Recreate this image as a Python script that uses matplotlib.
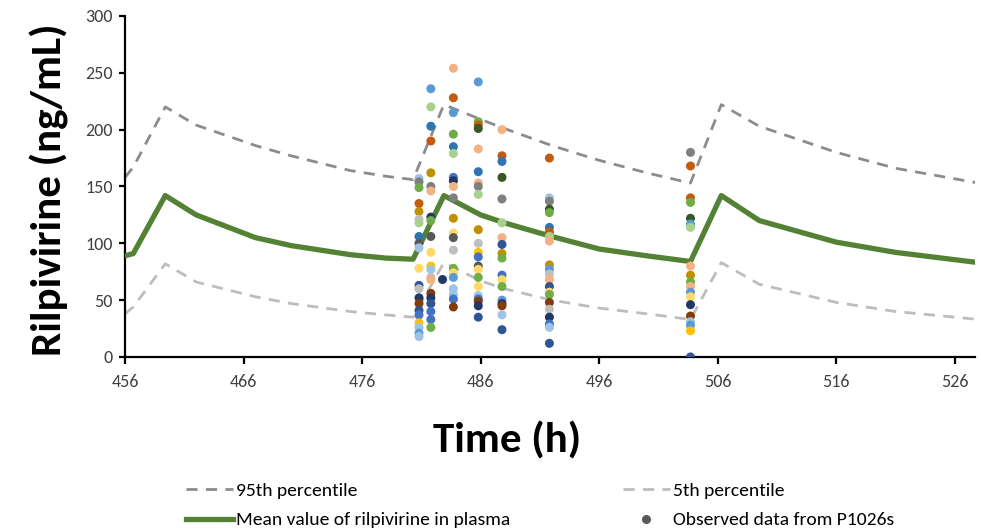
import matplotlib
matplotlib.use("Agg")
import matplotlib.pyplot as plt
from matplotlib.lines import Line2D
from matplotlib import font_manager

# 模拟曲线 (时间 h, 浓度 ng/mL)
sim_time = [456, 456.7, 459.4, 462, 467, 470, 475, 478, 480.3, 482.9, 486, 488, 492, 496,
            500, 503.7, 506.3, 509.5, 516, 521, 528]
mean_conc = [89, 91, 142, 125, 105, 98, 90, 87, 86, 142, 125, 118, 106, 95,
             89, 84, 142, 120, 101, 92, 83]
p95_conc = [158, 167, 220, 204, 186, 177, 164, 159, 156, 222, 209, 201, 186, 173,
            162, 153, 222, 203, 180, 166, 153]
p05_conc = [38, 44, 82, 66, 53, 47, 40, 37, 35, 83, 67, 60, 50, 43,
            38, 33, 83, 64, 48, 40, 33]

# 观测数据 (P1026s)
obs_t = [480.8, 481.8, 482.7, 483.7, 485.8, 487.8, 491.8, 503.7]
obs_a = [157, 154, 149, 135, 128, 121, 118, 106, 100, 96, 78, 63, 60, 52, 47, 41, 37, 30, 26, 21, 18]
obs_b = [236, 220, 203, 190, 162, 150, 146, 123, 120, 106, 92, 80, 77, 70, 68, 56, 52, 47, 40, 33, 26]
obs_c = [69]
obs_d = [254, 228, 215, 196, 185, 179, 158, 155, 150, 140, 122, 109, 105, 94, 78, 74, 70, 60, 55, 51, 44]
obs_e = [242, 207, 204, 201, 183, 163, 153, 150, 143, 112, 100, 92, 88, 80, 77, 70, 62, 54, 51, 49, 45, 35]
obs_f = [200, 177, 172, 158, 139, 118, 105, 99, 91, 87, 72, 68, 62, 50, 47, 45, 37, 24]
obs_g = [175, 140, 137, 130, 127, 114, 110, 106, 102, 81, 77, 73, 68, 62, 57, 55, 48, 42, 35, 29, 26, 12]
obs_h = [180, 168, 140, 136, 122, 117, 114, 80, 72, 66, 62, 57, 53, 46, 36, 31, 28, 23, 0]
obs_vals = [obs_a, obs_b, obs_c, obs_d, obs_e, obs_f, obs_g, obs_h]

# 每个点的颜色 (Excel 多系列配色)
pal = {
    "b": "#4472C4", "db": "#2E75B6", "lb": "#9DC3E6", "sb": "#5B9BD5", "nv": "#1F3864",
    "rb": "#2F5597", "o": "#C55A11", "sa": "#F4B183", "gd": "#BF9000", "y": "#FFD966",
    "yo": "#FFC000", "g": "#70AD47", "dg": "#385723", "lg": "#A9D18E", "gy": "#7F7F7F",
    "lgy": "#BFBFBF", "dgy": "#595959", "br": "#843C0C",
}
clr_a = ["lb", "gy", "g", "o", "gd", "lgy", "lg", "db", "dgy", "lb", "y", "rb", "lgy", "nv", "br", "rb", "b", "yo", "lb", "sb", "lb"]
clr_b = ["sb", "lg", "db", "o", "gd", "gy", "sa", "nv", "g", "dgy", "y", "yo", "lb", "lgy", "sa", "br", "nv", "rb", "b", "b", "g"]
clr_c = ["nv"]
clr_d = ["sa", "o", "sb", "g", "db", "lg", "b", "nv", "sa", "gy", "gd", "y", "dgy", "lgy", "g", "y", "sb", "lb", "lb", "b", "br"]
clr_e = ["sb", "g", "o", "dg", "sa", "db", "sa", "gy", "lg", "gd", "lgy", "yo", "b", "dgy", "y", "g", "y", "lb", "b", "br", "nv", "rb"]
clr_f = ["sa", "o", "db", "dg", "gy", "lg", "sa", "rb", "gd", "g", "b", "y", "g", "sb", "nv", "br", "lb", "rb"]
clr_g = ["o", "lb", "gy", "dg", "g", "db", "o", "lg", "sa", "gd", "sb", "lgy", "sa", "rb", "y", "g", "br", "lgy", "nv", "b", "lb", "rb"]
clr_h = ["gy", "o", "o", "g", "dg", "sb", "lg", "sa", "gd", "g", "sa", "sb", "y", "nv", "br", "lb", "sb", "yo", "rb"]
obs_clrs = [clr_a, clr_b, clr_c, clr_d, clr_e, clr_f, clr_g, clr_h]

x_ticks = [456, 466, 476, 486, 496, 506, 516, 526]
y_ticks = [0, 50, 100, 150, 200, 250, 300]


def pick_font(names):
    have = {f.name for f in font_manager.fontManager.ttflist}
    for n in names:
        if n in have:
            return n
    return "DejaVu Sans"


font = pick_font(["Carlito", "Lato", "Liberation Sans"])
plt.rcParams["font.family"] = [font, "DejaVu Sans"]

fig = plt.figure(figsize=(9.81, 5.32), dpi=100)
ax = fig.add_axes([0.1274, 0.329, 0.8665, 0.641])

ax.plot(sim_time, p95_conc, color="#8C8C8C", lw=2, dashes=(4, 3), label="95th percentile", zorder=2)
ax.plot(sim_time, p05_conc, color="#BDBDBD", lw=2, dashes=(4, 3), label="5th percentile", zorder=2)
ax.plot(sim_time, mean_conc, color="#548235", lw=3.8, label="Mean value of rilpivirine in plasma", zorder=3)

for t, vals, cs in zip(obs_t, obs_vals, obs_clrs):
    ax.scatter([t] * len(vals), vals, s=42, c=[pal[k] for k in cs], linewidths=0, zorder=4)

ax.set_xlim(456, 527.7)
ax.set_ylim(0, 300)
ax.set_xticks(x_ticks)
ax.set_yticks(y_ticks)
ax.spines["top"].set_visible(False)
ax.spines["right"].set_visible(False)
for s in ["left", "bottom"]:
    ax.spines[s].set_linewidth(1.6)
ax.tick_params(axis="both", direction="out", length=5, width=1.6, labelsize=13, labelcolor="#404040")
ax.tick_params(axis="x", pad=7)
ax.tick_params(axis="y", length=4, pad=5)

ax.set_xlabel("Time (h)", fontsize=31, fontweight="bold")
ax.set_ylabel("Rilpivirine (ng/mL)", fontsize=31, fontweight="bold")
ax.xaxis.set_label_coords(0.45, -0.19)
ax.yaxis.set_label_coords(-0.066, 0.49)

handles = [
    Line2D([], [], color="#8C8C8C", lw=2, dashes=(4, 3)),
    Line2D([], [], color="#548235", lw=3.8),
    Line2D([], [], color="#BDBDBD", lw=2, dashes=(4, 3)),
    Line2D([], [], color="#595959", marker="o", ls="none", markersize=5.5),
]
labels = ["95th percentile", "Mean value of rilpivirine in plasma",
          "5th percentile", "Observed data from P1026s"]
fig.legend(handles, labels, ncol=2, loc="upper left", bbox_to_anchor=(0.19, 0.093),
           frameon=False, fontsize=14, handlelength=2.4, handletextpad=0.15,
           columnspacing=5.8, labelspacing=0.65, borderaxespad=0, borderpad=0)

fig.savefig("out.png", dpi=100)
